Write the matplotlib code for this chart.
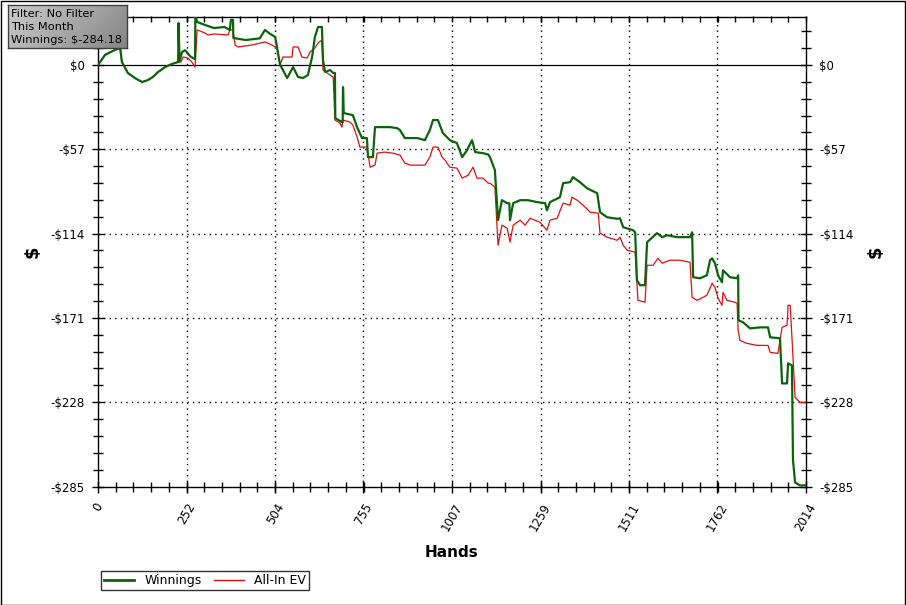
import matplotlib
matplotlib.use("Agg")
import matplotlib.pyplot as plt
import numpy as np
from matplotlib.patches import Rectangle
from matplotlib.ticker import FixedLocator, MultipleLocator
from matplotlib.lines import Line2D

# ---------------- data ----------------
win_hands = [0, 20, 48, 63, 68, 85, 105, 125, 142, 156, 171, 191, 210, 228, 229, 232, 239, 248, 262, 270, 276,
             277, 282, 304, 330, 360, 375, 378, 384, 385, 420, 460, 475, 490, 504, 518, 523, 538, 555, 569, 583,
             597, 609, 617, 626, 637, 640, 646, 660, 669, 674, 675, 694, 696, 697, 699, 725, 737, 751, 765, 768,
             782, 788, 802, 831, 851, 859, 873, 908, 930, 944, 953, 967, 981, 1001, 1021, 1036, 1050, 1064, 1073,
             1095, 1110, 1115, 1129, 1138, 1149, 1164, 1170, 1172, 1181, 1201, 1223, 1249, 1272, 1277, 1286, 1314,
             1323, 1343, 1351, 1371, 1391, 1420, 1428, 1448, 1477, 1485, 1494, 1522, 1528, 1533, 1542, 1556, 1562,
             1590, 1605, 1619, 1647, 1684, 1690, 1693, 1713, 1732, 1741, 1747, 1755, 1764, 1775, 1778, 1798, 1818,
             1821, 1822, 1835, 1855, 1883, 1906, 1912, 1940, 1946, 1960, 1963, 1974, 1977, 1983, 1997, 2014]
win_vals = [0, 6.8, 10.2, 11.5, 2.0, -5.4, -8.8, -11.5, -10.2, -8.1, -4.7, -1.4, 0.7, 2.0, 28.4, 2.5, 8.8, 10.0, 6.0,
            4.7, 4.0, 34.0, 29.1, 27.1, 25.0, 25.7, 23.7, 30.5, 30.5, 18.3, 16.9, 18.0, 23.7, 21.0, 19.0, 0.0, -2.0,
            -8.8, -1.4, -8.1, -8.8, -6.8, 5.4, 19.0, 25.7, 25.7, 3.4, -4.7, -3.4, -5.4, -5.4, -35.9, -38.6, -38.6,
            -14.9, -32.5, -33.9, -42.0, -49.4, -49.4, -62.3, -62.3, -42.0, -42.0, -42.0, -42.7, -44.0, -49.4, -49.4,
            -50.8, -44.0, -37.2, -37.2, -46.0, -50.8, -52.8, -62.3, -57.5, -50.8, -58.9, -59.6, -60.5, -62.3, -71.1,
            -104.9, -91.4, -93.4, -93.4, -104.9, -93.4, -91.4, -91.4, -92.7, -93.4, -98.2, -92.7, -89.4, -79.9,
            -79.2, -75.8, -79.2, -83.3, -86.7, -99.5, -102.9, -104.0, -103.6, -109.7, -111.7, -113.1, -145.6,
            -148.9, -148.9, -119.8, -113.7, -116.4, -115.1, -116.4, -116.4, -113.1, -143.5, -144.2, -142.2, -132.0,
            -130.7, -134.0, -142.2, -146.9, -138.8, -143.5, -144.2, -142.2, -172.6, -174.0, -178.1, -177.4, -177.4,
            -184.1, -184.8, -215.3, -215.3, -201.7, -203.1, -267.4, -282.3, -284.3, -284.18]

ev_hands = [0, 20, 48, 63, 68, 85, 105, 125, 142, 156, 171, 191, 210, 228, 236, 242, 256, 267, 276, 282, 304, 313,
            330, 370, 375, 384, 390, 398, 438, 475, 495, 509, 518, 526, 552, 555, 569, 580, 595, 603, 617, 626, 637,
            640, 660, 669, 674, 688, 694, 697, 717, 725, 737, 745, 765, 774, 788, 794, 816, 839, 859, 873, 888, 930,
            944, 953, 967, 979, 987, 1001, 1021, 1036, 1053, 1067, 1078, 1095, 1110, 1115, 1129, 1138, 1149, 1164,
            1172, 1181, 1201, 1215, 1229, 1257, 1277, 1286, 1306, 1323, 1343, 1348, 1363, 1380, 1400, 1423, 1428,
            1448, 1477, 1485, 1494, 1505, 1528, 1536, 1556, 1562, 1579, 1593, 1605, 1627, 1656, 1684, 1690, 1704,
            1721, 1732, 1747, 1755, 1764, 1775, 1778, 1789, 1812, 1818, 1821, 1826, 1846, 1875, 1906, 1912, 1934,
            1946, 1960, 1963, 1969, 1974, 1983, 1997, 2014]
ev_vals = [0, 6.8, 10.2, 11.5, 2.0, -5.4, -8.8, -11.5, -10.2, -8.1, -4.7, -1.4, 0.7, 2.0, 2.0, 5.4, 4.7, 2.0, -1.4,
           23.7, 21.7, 20.3, 21.0, 20.3, 23.7, 23.7, 13.5, 12.2, 13.5, 15.6, 13.5, 11.5, 0.0, 5.4, 5.4, 12.2, 12.2,
           5.4, 4.7, 8.8, 11.5, 14.9, 16.9, -3.4, -6.8, -8.1, -37.2, -39.3, -42.0, -37.2, -38.6, -40.6, -48.7,
           -55.5, -55.5, -69.1, -67.7, -59.6, -58.9, -59.6, -60.9, -66.3, -67.7, -67.7, -62.3, -55.5, -55.5, -62.3,
           -64.3, -69.1, -69.7, -76.5, -74.5, -69.1, -76.5, -76.5, -79.9, -79.9, -82.6, -121.9, -108.3, -110.4,
           -119.8, -108.3, -104.9, -108.3, -103.6, -106.3, -111.7, -104.9, -103.6, -93.4, -94.8, -89.4, -91.4,
           -94.8, -99.5, -100.2, -113.7, -116.4, -118.5, -116.4, -121.9, -125.2, -126.6, -159.1, -160.4, -135.4,
           -135.4, -130.7, -134.0, -132.0, -132.0, -133.4, -157.1, -159.1, -157.1, -155.7, -147.6, -150.3, -157.7,
           -162.5, -153.7, -159.1, -160.4, -161.1, -179.4, -186.2, -188.2, -189.6, -189.6, -194.3, -195.0, -177.4,
           -176.0, -162.5, -162.5, -184.1, -224.8, -228.1, -228.2]

x_ticks = [0, 252, 504, 755, 1007, 1259, 1511, 1762, 2014]
y_ticks = [0, -57, -114, -171, -228, -285]
y_labels = ["$0", "-$57", "-$114", "-$171", "-$228", "-$285"]
info_lines = ["Filter: No Filter", "This Month", "Winnings: $-284.18"]
series_names = ["Winnings", "All-In EV"]

GREEN = "#0b640b"
RED = "#e01010"

plt.rcParams['font.family'] = ['DejaVu Sans']
fig = plt.figure(figsize=(9.06, 6.05), dpi=100)
fig.patch.set_facecolor("white")

W, H = 906, 605
ax = fig.add_axes([98 / W, 1 - 486.5 / H, (806 - 98) / W, (486.5 - 16.5) / H])
ax.set_xlim(0, 2014)
ax.set_ylim(-285, 32.8)

# grid
for xv in x_ticks[1:-1]:
    ax.axvline(xv, color="black", lw=1.0, ls=(0, (1, 3)), zorder=1)
for yv in y_ticks[1:-1]:
    ax.axhline(yv, color="black", lw=1.0, ls=(0, (1, 3)), zorder=1)
ax.axhline(0, color="black", lw=0.9, zorder=2)

ax.plot(ev_hands, ev_vals, color=RED, lw=0.9, zorder=3)
ax.plot(win_hands, win_vals, color=GREEN, lw=1.6, zorder=4)

for s in ax.spines.values():
    s.set_linewidth(1.0)
    s.set_color("black")

ax.xaxis.set_major_locator(FixedLocator(x_ticks))
ax.xaxis.set_minor_locator(MultipleLocator(2014 / 40))
ax.yaxis.set_major_locator(FixedLocator(y_ticks))
ax.yaxis.set_minor_locator(MultipleLocator(11.4))
ax.set_xticklabels([str(v) for v in x_ticks], rotation=60, ha="center", va="top", fontsize=8.5)
ax.set_yticklabels(y_labels, fontsize=8.5)
ax.tick_params(axis="both", which="major", direction="inout", length=9, width=1, color="black")
ax.tick_params(axis="both", which="minor", direction="inout", length=7, width=1, color="black")
ax.tick_params(axis="y", which="both", left=True, right=True, labelleft=True, labelright=True)
ax.tick_params(axis="x", which="both", top=False, labeltop=False, pad=6)
ax.tick_params(axis="y", which="major", pad=5)

# small inward ticks on the top edge
axt = ax.secondary_xaxis("top")
axt.xaxis.set_major_locator(FixedLocator(x_ticks))
axt.xaxis.set_minor_locator(MultipleLocator(2014 / 40))
axt.tick_params(axis="x", which="both", direction="in", length=4, width=1, labeltop=False)
axt.spines["top"].set_visible(False)

ax.set_xlabel("Hands", fontsize=11, fontweight="bold", labelpad=8)
ax.set_ylabel("$", fontsize=13, fontweight="bold", labelpad=6)
ax2 = ax.secondary_yaxis("right")
ax2.set_yticks([])
ax2.spines["right"].set_visible(False)
ax2.set_ylabel("$", fontsize=13, fontweight="bold", labelpad=44, rotation=90)

# info box with gradient
bax = fig.add_axes([8 / W, 1 - 48 / H, 119 / W, 43 / H])
grad = np.linspace(0, 1, 256)
gx, gy = np.meshgrid(grad, np.linspace(0, 1, 64))
g = 0.80 - 0.28 * (0.75 * gx + 0.25 * gy)
bax.imshow(g, cmap="gray", vmin=0, vmax=1, aspect="auto", extent=[0, 1, 0, 1], origin="upper")
bax.set_xlim(0, 1)
bax.set_ylim(0, 1)
bax.set_xticks([])
bax.set_yticks([])
for s in bax.spines.values():
    s.set_color("#404040")
    s.set_linewidth(1.0)
for i, line in enumerate(info_lines):
    bax.text(0.025, 0.80 - i * 0.31, line, fontsize=8.2, ha="left", va="center", color="black")

# legend
handles = [Line2D([0], [0], color=GREEN, lw=2.0), Line2D([0], [0], color=RED, lw=1.0)]
leg = fig.legend(handles, series_names, loc="lower left", bbox_to_anchor=(101 / W, 1 - 590 / H),
                 ncol=2, fontsize=9, frameon=True, fancybox=False, handlelength=2.4,
                 columnspacing=1.0, handletextpad=0.8, borderpad=0.25, borderaxespad=0)
leg.get_frame().set_edgecolor("black")
leg.get_frame().set_linewidth(1.0)

# outer border
fig.patches.append(Rectangle((0.5 / W, 0.5 / H), 1 - 1.5 / W, 1 - 1.5 / H, transform=fig.transFigure,
                             fill=False, edgecolor="black", lw=1.0))

fig.savefig("out.png", dpi=100)
